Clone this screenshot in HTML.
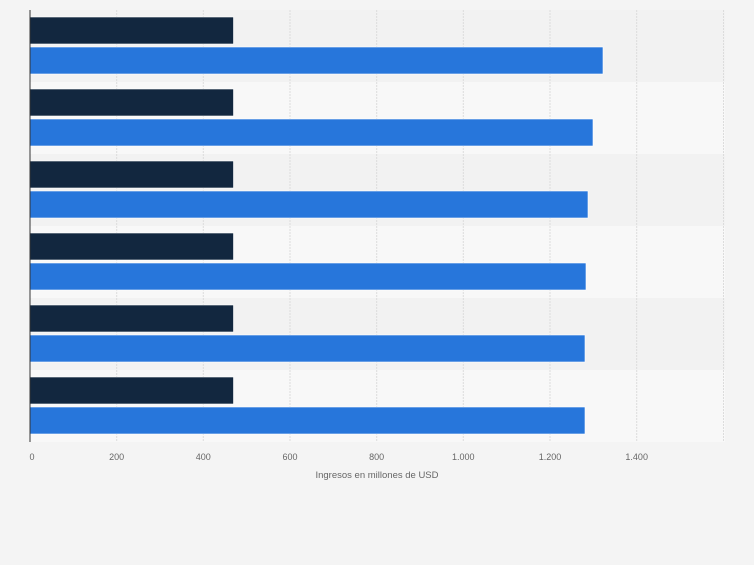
<!DOCTYPE html>
<html><head><meta charset="utf-8"><style>body{margin:0;background:#f4f4f4}</style></head>
<body>
<svg width="754" height="560" xmlns="http://www.w3.org/2000/svg" font-family="Liberation Sans, sans-serif">
<rect width="754" height="560" fill="#f4f4f4"/>
<rect x="30" y="10" width="695" height="72" fill="#f2f2f2"/>
<rect x="30" y="82" width="695" height="72" fill="#f8f8f8"/>
<rect x="30" y="154" width="695" height="72" fill="#f2f2f2"/>
<rect x="30" y="226" width="695" height="72" fill="#f8f8f8"/>
<rect x="30" y="298" width="695" height="72" fill="#f2f2f2"/>
<rect x="30" y="370" width="695" height="72" fill="#f8f8f8"/>
<g stroke="#dcdcdc" stroke-dasharray="2,1">
<line x1="116.7" y1="10" x2="116.7" y2="442"/><line x1="203.3" y1="10" x2="203.3" y2="442"/>
<line x1="290" y1="10" x2="290" y2="442"/><line x1="376.7" y1="10" x2="376.7" y2="442"/>
<line x1="463.3" y1="10" x2="463.3" y2="442"/><line x1="550" y1="10" x2="550" y2="442"/>
<line x1="636.7" y1="10" x2="636.7" y2="442"/><line x1="723.5" y1="10" x2="723.5" y2="442"/>
</g>
<g stroke="#fff" stroke-width="0.6">
<rect x="30" y="17" width="203.5" height="27" fill="#12273f"/><rect x="30" y="47" width="573" height="27" fill="#2776db"/>
<rect x="30" y="89" width="203.5" height="27" fill="#12273f"/><rect x="30" y="119" width="563" height="27" fill="#2776db"/>
<rect x="30" y="161" width="203.5" height="27" fill="#12273f"/><rect x="30" y="191" width="558" height="27" fill="#2776db"/>
<rect x="30" y="233" width="203.5" height="27" fill="#12273f"/><rect x="30" y="263" width="556" height="27" fill="#2776db"/>
<rect x="30" y="305" width="203.5" height="27" fill="#12273f"/><rect x="30" y="335" width="555" height="27" fill="#2776db"/>
<rect x="30" y="377" width="203.5" height="27" fill="#12273f"/><rect x="30" y="407" width="555" height="27" fill="#2776db"/>
</g>
<line x1="30" y1="10" x2="30" y2="442" stroke="#333" stroke-width="1"/>
<g font-size="9" fill="#666" text-anchor="middle">
<text x="32" y="460">0</text><text x="116.7" y="460">200</text><text x="203.3" y="460">400</text>
<text x="290" y="460">600</text><text x="376.7" y="460">800</text><text x="463.3" y="460">1.000</text>
<text x="550" y="460">1.200</text><text x="636.7" y="460">1.400</text>
<text x="377" y="478" font-size="9.5">Ingresos en millones de USD</text>
</g>
</svg>
</body></html>
